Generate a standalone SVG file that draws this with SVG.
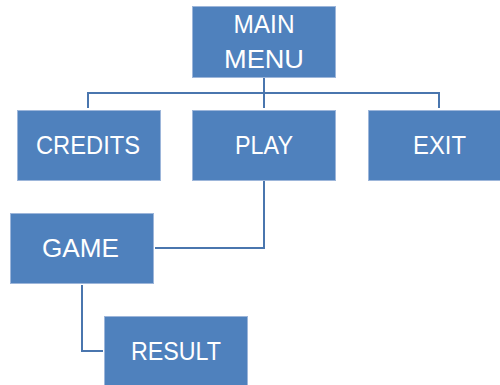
<svg xmlns="http://www.w3.org/2000/svg" width="500" height="385" viewBox="0 0 500 385">
<style>
.box{fill:#4F81BD;stroke:#9db6da;stroke-width:1}
.lbl{fill:#ffffff;font-family:"Liberation Sans",Arial,sans-serif;font-size:26px;text-anchor:middle;lengthAdjust:spacingAndGlyphs}
.con{fill:none;stroke:#4A76AE;stroke-width:2}
</style>
<rect width="500" height="385" fill="#ffffff"/>
<g id="connectors">
<path class="con" d="M264 78V108"/>
<path class="con" d="M88 108V93H439V108"/>
<path class="con" d="M264 181V248H155"/>
<path class="con" d="M82 285V351H103"/>
</g>
<g id="main-menu">
<rect class="box" x="192.5" y="6.5" width="143" height="71"/>
<text class="lbl" x="264" y="33" textLength="61" lengthAdjust="spacingAndGlyphs">MAIN</text>
<text class="lbl" x="264" y="68" textLength="80" lengthAdjust="spacingAndGlyphs">MENU</text>
</g>
<g id="credits">
<rect class="box" x="17.5" y="110.5" width="143" height="70"/>
<text class="lbl" x="88" y="154" textLength="104" lengthAdjust="spacingAndGlyphs">CREDITS</text>
</g>
<g id="play">
<rect class="box" x="192.5" y="110.5" width="143" height="70"/>
<text class="lbl" x="264" y="154" textLength="58" lengthAdjust="spacingAndGlyphs">PLAY</text>
</g>
<g id="exit">
<rect class="box" x="368.5" y="110.5" width="140" height="70"/>
<text class="lbl" x="439.5" y="154" textLength="53" lengthAdjust="spacingAndGlyphs">EXIT</text>
</g>
<g id="game">
<rect class="box" x="10.5" y="213.5" width="143" height="70"/>
<text class="lbl" x="80.5" y="257" textLength="77" lengthAdjust="spacingAndGlyphs">GAME</text>
</g>
<g id="result">
<rect class="box" x="104.5" y="316.5" width="143" height="75"/>
<text class="lbl" x="176" y="360" textLength="90" lengthAdjust="spacingAndGlyphs">RESULT</text>
</g>
</svg>
